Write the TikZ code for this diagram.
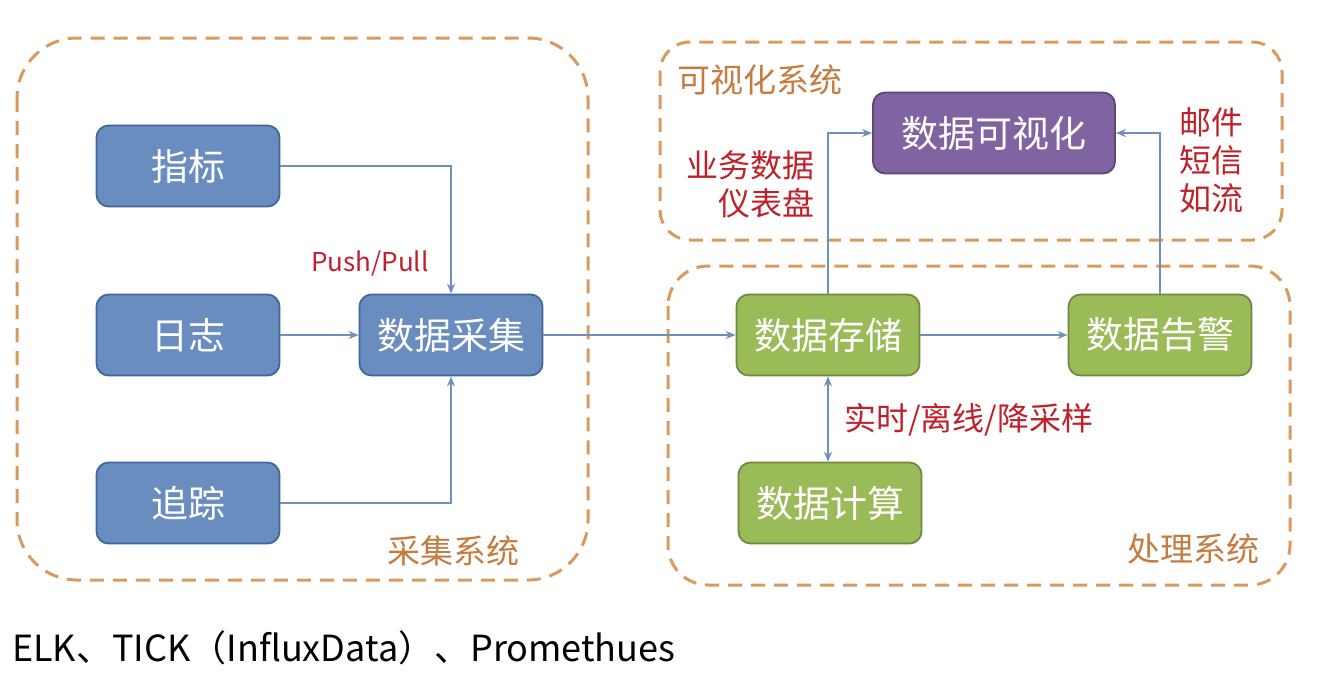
\documentclass[tikz,border=0pt]{standalone}
\usepackage{fontspec}
\setmainfont{Noto Sans CJK SC}
\usetikzlibrary{arrows.meta}
\definecolor{bfill}{HTML}{6A8DC0}
\definecolor{bdraw}{HTML}{41679A}
\definecolor{gfill}{HTML}{9BBB59}
\definecolor{gdraw}{HTML}{71893F}
\definecolor{pfill}{HTML}{8064A2}
\definecolor{pdraw}{HTML}{5C4776}
\definecolor{conncol}{HTML}{6F8FBF}
\definecolor{dashcol}{HTML}{D99A5E}
\definecolor{grptext}{HTML}{C47C40}
\definecolor{redtext}{HTML}{C0202A}
\tikzset{
  boxbase/.style={rectangle, rounded corners=12pt, line width=1.8pt, minimum width=183pt, minimum height=81pt, inner sep=0pt, text=white, font=\fontsize{37}{40}\selectfont},
  bluebox/.style={boxbase, fill=bfill, draw=bdraw},
  greenbox/.style={boxbase, fill=gfill, draw=gdraw},
  purplebox/.style={boxbase, fill=pfill, draw=pdraw, minimum width=242pt},
  group/.style={draw=dashcol, line width=3pt, dash pattern=on 14pt off 9pt},
  conn/.style={draw=conncol, line width=1.3pt, -{Stealth[length=10pt,width=8pt]}},
  conn2/.style={draw=conncol, line width=1.3pt, {Stealth[length=10pt,width=8pt]}-{Stealth[length=10pt,width=8pt]}},
  grplabel/.style={text=grptext, font=\fontsize{33}{36}\selectfont, inner sep=0pt},
  redlabel/.style={text=redtext, font=\fontsize{32}{38}\selectfont, inner sep=0pt}
}
\begin{document}
\begin{tikzpicture}[x=1pt,y=-1pt]
\useasboundingbox[fill=white] (0,0) rectangle (1322,678);
% groups
\draw[group, rounded corners=60pt] (17,38) rectangle (588,580);
\draw[group, rounded corners=30pt] (660,42) rectangle (1282,240);
\draw[group, rounded corners=40pt] (668,266) rectangle (1290,585);
% nodes
\node[bluebox] (zb) at (188,166) {指标};
\node[bluebox] (rz) at (188,335) {日志};
\node[bluebox] (zz) at (188,503) {追踪};
\node[bluebox] (cj) at (451,335) {数据采集};
\node[greenbox] (cc) at (828,335) {数据存储};
\node[greenbox] (gj) at (1160,335) {数据告警};
\node[greenbox] (js) at (830,503) {数据计算};
\node[purplebox] (vis) at (994,133) {数据可视化};
% labels
\node[text=redtext, font=\fontsize{26}{30}\selectfont, inner sep=0pt] (pp) at (370,263) {Push/Pull};
\node[grplabel] (l1) at (453,551) {采集系统};
\node[grplabel] (l2) at (760,80) {可视化系统};
\node[grplabel] (l3) at (1193,549) {处理系统};
\node[redlabel, align=right, anchor=east] (l4) at (815,184) {业务数据\\仪表盘};
\node[redlabel, align=left, anchor=west] (l5) at (1179,160) {邮件\\短信\\如流};
\node[redlabel, anchor=west] (l6) at (844,420) {实时/离线/降采样};
\node[anchor=west, inner sep=0pt, text=black, font=\fontsize{36}{40}\selectfont] (bt) at (12,648) {ELK、TICK（InfluxData）、Promethues};
% connectors
\draw[conn] (zb.east) -| (cj.north);
\draw[conn] (rz.east) -- (cj.west);
\draw[conn] (zz.east) -| (cj.south);
\draw[conn] (cj.east) -- (cc.west);
\draw[conn] (cc.east) -- (gj.west);
\draw[conn] (cc.north) |- (vis.west);
\draw[conn] (gj.north) |- (vis.east);
\draw[conn2] (cc.south) -- (cc.south |- js.north);
\end{tikzpicture}
\end{document}
